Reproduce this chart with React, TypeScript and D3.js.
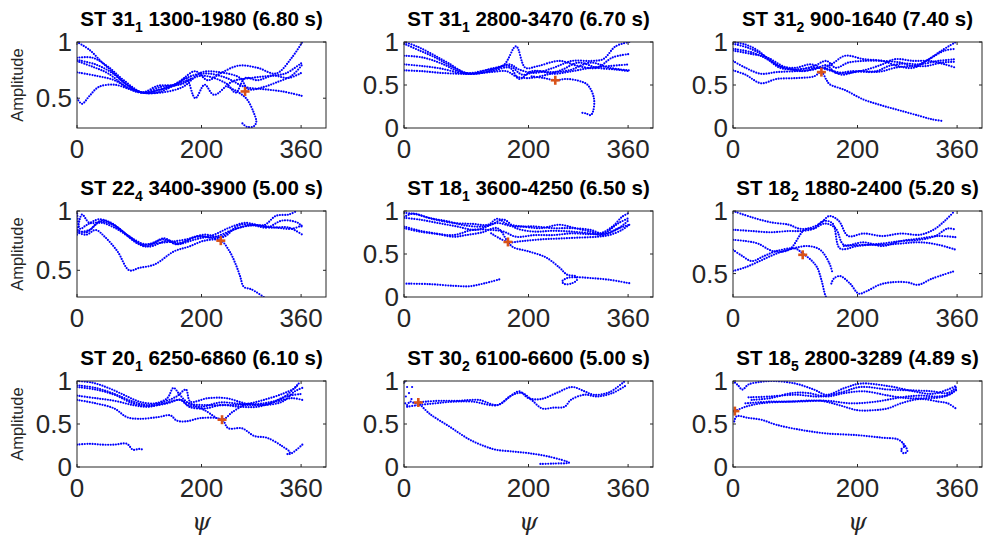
import React from "react";
import * as d3 from "d3";

type Pt = [number, number];

// panel titles
const stations = ["ST 31", "ST 31", "ST 31", "ST 22", "ST 18", "ST 18", "ST 20", "ST 30", "ST 18"];
const subs = ["1", "1", "2", "4", "1", "2", "1", "2", "5"];
const windows = [
  "1300-1980 (6.80 s)",
  "2800-3470 (6.70 s)",
  "900-1640 (7.40 s)",
  "3400-3900 (5.00 s)",
  "3600-4250 (6.50 s)",
  "1880-2400 (5.20 s)",
  "6250-6860 (6.10 s)",
  "6100-6600 (5.00 s)",
  "2800-3289 (4.89 s)",
];
const yMins = [0.235, 0, 0, 0.275, 0, 0.313, 0, 0, 0];
const xTicks = [0, 200, 360];
const markers: Pt[] = [
  [270, 0.56], [243, 0.555], [142, 0.65],
  [231, 0.75], [167, 0.64], [112, 0.65],
  [233, 0.55], [23, 0.75], [3, 0.65],
];

const curves1: Pt[][] = [
  [[0,1.0],[20,0.93],[40,0.82],[60,0.72],[80,0.62],[105,0.55],[130,0.57],[160,0.63],[185,0.70],[210,0.72],[240,0.68],[270,0.60],[300,0.58],[330,0.56],[362,0.52]],
  [[0,0.86],[25,0.86],[50,0.78],[75,0.66],[105,0.55],[135,0.56],[165,0.65],[190,0.74],[210,0.66],[230,0.72],[260,0.79],[290,0.77],[320,0.72],[345,0.86],[362,1.0]],
  [[0,0.84],[30,0.80],[55,0.73],[80,0.62],[105,0.55],[135,0.58],[160,0.62],[175,0.68],[190,0.50],[205,0.62],[220,0.53],[250,0.65],[280,0.68],[310,0.70],[335,0.72],[362,0.82]],
  [[0,0.83],[25,0.78],[50,0.72],[80,0.60],[105,0.55],[135,0.55],[170,0.60],[200,0.73],[230,0.73],[262,0.68],[275,0.58],[300,0.60],[320,0.64],[345,0.70],[362,0.80]],
  [[0,0.73],[30,0.70],[60,0.66],[85,0.58],[105,0.55],[130,0.61],[165,0.62],[200,0.70],[240,0.63],[255,0.55],[270,0.68],[290,0.66],[315,0.70],[340,0.68],[362,0.73]],
  [[0,0.50],[8,0.45],[20,0.52],[35,0.60],[60,0.62],[85,0.58],[105,0.55],[135,0.60],[160,0.62],[185,0.68]],
  [[243,0.60],[260,0.55],[273,0.49],[284,0.37],[288,0.29],[284,0.25],[273,0.245],[265,0.28]],
];
const curves2: Pt[][] = [
  [[0,1.0],[20,0.95],[45,0.86],[70,0.76],[100,0.64],[125,0.64],[150,0.70],[170,0.74],[185,0.68],[210,0.64],[240,0.70],[270,0.78],[300,0.78],[320,0.80],[340,0.95],[362,1.0]],
  [[0,0.98],[25,0.90],[50,0.82],[75,0.72],[100,0.64],[130,0.67],[160,0.73],[180,0.95],[195,0.70],[215,0.72],[250,0.78],[280,0.72],[310,0.70],[335,0.82],[362,0.86]],
  [[0,0.84],[30,0.82],[60,0.75],[90,0.65],[110,0.63],[140,0.69],[170,0.72],[190,0.62],[215,0.66],[240,0.63],[270,0.66],[300,0.70],[330,0.72],[362,0.74]],
  [[0,0.74],[30,0.72],[60,0.69],[90,0.64],[110,0.63],[140,0.66],[170,0.70],[185,0.57],[205,0.66],[235,0.65],[265,0.67],[300,0.76],[330,0.70],[362,0.67]],
  [[0,0.67],[30,0.66],[60,0.64],[90,0.63],[110,0.63],[140,0.65],[165,0.66],[180,0.60],[200,0.58],[230,0.62],[255,0.68],[280,0.76],[310,0.70],[340,0.68],[362,0.66]],
  [[205,0.60],[225,0.58],[243,0.555],[260,0.57],[280,0.55],[295,0.50],[305,0.35],[304,0.20],[300,0.15],[292,0.17],[283,0.18]],
];
const curves3: Pt[][] = [
  [[0,1.0],[20,0.97],[40,0.90],[60,0.78],[80,0.70],[105,0.68],[130,0.72],[150,0.78],[165,0.70],[185,0.76],[210,0.78],[240,0.78],[270,0.76],[290,0.72],[310,0.78],[335,0.90],[358,1.0]],
  [[0,0.98],[25,0.93],[50,0.84],[75,0.72],[100,0.70],[125,0.74],[145,0.70],[160,0.75],[180,0.84],[210,0.80],[240,0.78],[265,0.72],[290,0.70],[315,0.80],[340,0.90],[358,0.92]],
  [[0,0.92],[30,0.88],[55,0.80],[75,0.70],[100,0.68],[130,0.70],[155,0.68],[175,0.62],[200,0.66],[230,0.66],[250,0.72],[275,0.75],[300,0.74],[330,0.78],[358,0.80]],
  [[0,0.90],[30,0.86],[55,0.82],[80,0.72],[110,0.66],[140,0.70],[160,0.66],[185,0.64],[215,0.68],[240,0.74],[260,0.80],[290,0.78],[315,0.78],[340,0.74],[358,0.70]],
  [[0,0.78],[20,0.70],[45,0.63],[70,0.65],[100,0.66],[130,0.68],[150,0.73],[165,0.64],[190,0.66],[220,0.65],[240,0.66],[260,0.70],[285,0.72],[310,0.72],[335,0.76],[358,0.77]],
  [[0,0.67],[20,0.62],[45,0.52],[70,0.57],[100,0.58],[130,0.60],[142,0.65],[150,0.56],[155,0.51],[180,0.44],[210,0.33],[240,0.26],[270,0.20],[300,0.14],[320,0.10],[338,0.08]],
];
const curves4: Pt[][] = [
  [[0,1.0],[5,0.85],[15,0.88],[35,0.93],[55,0.90],[80,0.80],[110,0.72],[140,0.76],[160,0.72],[190,0.76],[220,0.80],[245,0.86],[270,0.90],[300,0.88],[320,0.96],[340,0.97],[353,1.0]],
  [[0,0.80],[8,0.97],[20,0.90],[40,0.91],[60,0.88],[85,0.78],[110,0.70],[140,0.77],[160,0.72],[190,0.78],[220,0.78],[250,0.84],[280,0.88],[305,0.86],[330,0.92],[355,0.90],[362,0.86]],
  [[0,0.84],[15,0.82],[35,0.90],[60,0.86],[90,0.76],[115,0.70],[145,0.75],[165,0.73],[195,0.79],[225,0.77],[255,0.85],[285,0.88],[310,0.86],[340,0.86],[362,0.80]],
  [[0,0.82],[15,0.80],[30,0.84],[45,0.78],[65,0.66],[84,0.50],[100,0.52],[125,0.55],[156,0.66],[180,0.70],[205,0.75],[231,0.75],[245,0.66],[255,0.55],[262,0.45],[268,0.36],[280,0.34],[300,0.275]],
  [[0,0.82],[20,0.84],[40,0.92],[70,0.84],[100,0.72],[130,0.73],[150,0.74],[175,0.76],[205,0.80],[235,0.78],[260,0.88],[290,0.88],[320,0.86],[345,0.85],[362,0.88]],
];
const curves5: Pt[][] = [
  [[0,0.98],[20,0.96],[50,0.90],[80,0.86],[110,0.85],[135,0.84],[150,0.91],[165,0.85],[190,0.82],[220,0.80],[250,0.84],[275,0.80],[300,0.76],[315,0.74],[335,0.82],[350,0.93],[362,0.98]],
  [[0,0.93],[15,0.97],[40,0.92],[70,0.88],[100,0.83],[130,0.82],[150,0.86],[175,0.82],[210,0.82],[240,0.80],[270,0.80],[300,0.78],[320,0.74],[345,0.86],[362,0.92]],
  [[0,0.92],[25,0.90],[55,0.86],[85,0.82],[115,0.78],[140,0.84],[160,0.90],[180,0.80],[210,0.76],[240,0.77],[270,0.76],[300,0.74],[320,0.72],[345,0.80],[362,0.90]],
  [[0,0.82],[20,0.78],[50,0.74],[80,0.72],[110,0.78],[140,0.78],[160,0.76],[180,0.70],[210,0.72],[240,0.72],[270,0.74],[300,0.73],[325,0.74],[345,0.80],[362,0.84]],
  [[0,0.80],[25,0.76],[55,0.73],[80,0.70],[100,0.72],[125,0.75],[150,0.80],[167,0.64],[175,0.58],[200,0.53],[228,0.46],[250,0.34],[262,0.26],[276,0.24],[278,0.20],[270,0.16],[258,0.15],[254,0.18],[262,0.22],[276,0.23],[300,0.22],[330,0.20],[362,0.16]],
  [[140,0.74],[167,0.64],[190,0.65],[220,0.67],[250,0.68],[280,0.69],[310,0.70],[330,0.72],[350,0.78],[362,0.84]],
  [[4,0.155],[40,0.15],[80,0.13],[105,0.125],[130,0.16],[156,0.21]],
];
const curves6: Pt[][] = [
  [[0,1.0],[30,0.95],[60,0.91],[90,0.89],[105,0.86],[120,0.86],[140,0.90],[155,0.96],[170,0.92],[185,0.80],[210,0.82],[240,0.80],[270,0.82],[300,0.81],[322,0.85],[340,0.92],[356,1.0]],
  [[0,0.85],[30,0.84],[60,0.83],[90,0.84],[110,0.84],[130,0.86],[145,0.92],[160,0.90],[172,0.70],[200,0.72],[240,0.74],[270,0.76],[300,0.77],[325,0.80],[345,0.86],[358,0.85]],
  [[0,0.77],[20,0.76],[40,0.74],[64,0.68],[90,0.69],[115,0.85],[130,0.86],[148,0.90],[165,0.86],[178,0.73],[210,0.75],[240,0.72],[270,0.76],[300,0.78],[330,0.80],[358,0.79]],
  [[0,0.69],[15,0.64],[30,0.60],[50,0.64],[70,0.68],[100,0.70],[112,0.66],[125,0.61],[135,0.55],[142,0.45],[148,0.33],[150,0.31]],
  [[0,0.52],[20,0.55],[43,0.60],[70,0.66],[96,0.70],[120,0.72],[140,0.69],[155,0.58],[160,0.50]],
  [[158,0.42],[162,0.46],[172,0.48],[188,0.42],[202,0.34],[215,0.36],[235,0.41],[254,0.43],[280,0.43],[297,0.41],[320,0.46],[356,0.52]],
  [[178,0.72],[210,0.73],[240,0.73],[270,0.74],[300,0.75],[330,0.73],[358,0.69]],
];
const curves7: Pt[][] = [
  [[0,1.0],[25,0.98],[50,0.92],[75,0.84],[100,0.76],[125,0.74],[145,0.80],[155,0.92],[165,0.84],[180,0.74],[210,0.72],[240,0.72],[270,0.73],[300,0.78],[330,0.85],[350,0.92],[358,0.99]],
  [[0,0.95],[30,0.92],[60,0.85],[90,0.76],[115,0.72],[140,0.76],[160,0.82],[175,0.90],[182,0.76],[210,0.80],[240,0.80],[270,0.74],[300,0.72],[330,0.76],[350,0.88],[362,0.92]],
  [[0,0.93],[30,0.90],[60,0.84],[90,0.74],[115,0.71],[145,0.74],[165,0.78],[178,0.72],[200,0.70],[230,0.75],[255,0.74],[280,0.72],[310,0.74],[335,0.82],[362,0.85]],
  [[0,0.83],[30,0.80],[60,0.77],[90,0.72],[115,0.70],[140,0.74],[168,0.78],[180,0.70],[205,0.68],[232,0.72],[262,0.70],[290,0.70],[320,0.76],[345,0.80],[362,0.78]],
  [[0,0.78],[30,0.74],[60,0.68],[80,0.58],[100,0.56],[130,0.58],[150,0.60],[160,0.54],[175,0.53],[200,0.57],[233,0.55],[243,0.45],[265,0.45],[285,0.36],[305,0.34],[330,0.24],[342,0.17],[338,0.15],[345,0.16],[362,0.26]],
  [[180,0.74],[205,0.66],[233,0.55],[250,0.64],[270,0.72],[300,0.74],[330,0.80],[355,0.96]],
  [[0,0.26],[20,0.27],[40,0.26],[60,0.26],[80,0.27],[90,0.20],[100,0.21],[107,0.20]],
];
const curves8: Pt[][] = [
  [[5,0.72],[10,0.76],[18,0.74],[23,0.75],[35,0.76],[60,0.77],[90,0.77],[120,0.78],[150,0.72],[170,0.82],[185,0.88],[200,0.80],[220,0.79],[245,0.86],[270,0.93],[290,0.88],[305,0.84],[330,0.87],[355,1.0]],
  [[5,0.70],[23,0.72],[50,0.74],[80,0.76],[110,0.76],[150,0.72],[175,0.84],[190,0.86],[205,0.78],[222,0.68],[240,0.69],[258,0.70],[268,0.78],[290,0.84],[310,0.82],[335,0.86],[355,0.94]],
  [[23,0.75],[41,0.62],[73,0.47],[105,0.32],[130,0.24],[148,0.20],[175,0.18],[201,0.16],[233,0.12],[265,0.05],[240,0.04],[217,0.035]],
];
const curves9: Pt[][] = [
  [[0,1.0],[8,0.95],[15,0.90],[25,0.96],[45,0.99],[65,1.0],[100,0.97],[130,0.90],[150,0.84],[180,0.92],[205,0.97],[250,0.94],[290,0.88],[320,0.85],[345,0.90],[360,0.95]],
  [[25,0.81],[60,0.82],[100,0.84],[140,0.82],[175,0.87],[205,0.93],[250,0.90],[290,0.89],[320,0.88],[345,0.86],[360,0.94]],
  [[30,0.78],[60,0.80],[95,0.86],[120,0.86],[150,0.82],[180,0.86],[210,0.88],[250,0.83],[280,0.80],[310,0.80],[340,0.82],[360,0.90]],
  [[20,0.74],[60,0.76],[100,0.76],[150,0.77],[190,0.74],[230,0.76],[270,0.81],[300,0.83],[330,0.82],[350,0.85],[360,0.92]],
  [[3,0.65],[20,0.70],[45,0.74],[90,0.76],[140,0.77],[170,0.72],[200,0.66],[225,0.66],[248,0.68],[270,0.74],[300,0.79],[330,0.76],[345,0.74],[358,0.68]],
  [[2,0.53],[6,0.59],[25,0.57],[45,0.55],[70,0.49],[110,0.43],[150,0.39],[200,0.37],[240,0.34],[265,0.32],[275,0.26],[280,0.18],[274,0.16],[270,0.20],[275,0.24],[270,0.30]],
];
// scattered single samples near psi = 0 in panel 8
const sparse8: Pt[] = [[1,0.99],[5,0.93],[13,0.93],[8,0.86],[3,0.82],[12,0.79],[2,0.74]];

const allCurves = [curves1, curves2, curves3, curves4, curves5, curves6, curves7, curves8, curves9];

const colLeft = [77, 404, 733];
const rowTop = [42, 211, 381];
const W = 249;
const H = 86;
const axisColor = "#262626";
const font = "'Liberation Sans', Arial, Helvetica, sans-serif";

function Panel({ idx }: { idx: number }) {
  const col = idx % 3;
  const row = Math.floor(idx / 3);
  const left = colLeft[col];
  const top = rowTop[row];
  const yMin = yMins[idx];
  const x = d3.scaleLinear().domain([0, 400]).range([0, W]);
  const y = d3.scaleLinear().domain([yMin, 1]).range([H, 0]);
  const yTicks = [0, 0.5, 1].filter((t) => t >= yMin);
  const line = d3
    .line<Pt>()
    .x((d) => x(d[0]))
    .y((d) => y(d[1]))
    .curve(d3.curveCatmullRom.alpha(0.5));
  const clipId = `clip${idx}`;
  const m = markers[idx];
  const tl = 3;
  return (
    <g transform={`translate(${left},${top})`}>
      <defs>
        <clipPath id={clipId}>
          <rect x={0} y={0} width={W} height={H} />
        </clipPath>
      </defs>
      <g clipPath={`url(#${clipId})`}>
        {allCurves[idx].map((c, i) => (
          <path
            key={i}
            d={line(c) || ""}
            fill="none"
            stroke="#0000ff"
            strokeWidth={2.2}
            strokeDasharray="0 2.6"
            strokeLinecap="round"
          />
        ))}
        {idx === 7 &&
          sparse8.map((p, i) => (
            <circle key={i} cx={x(p[0])} cy={y(p[1])} r={1.1} fill="#0000ff" />
          ))}
        <g transform={`translate(${x(m[0])},${y(m[1])})`} stroke="#D95319" strokeWidth={2.6}>
          <line x1={-4.5} x2={4.5} y1={0} y2={0} />
          <line x1={0} x2={0} y1={-4.5} y2={4.5} />
        </g>
      </g>
      <rect x={0} y={0} width={W} height={H} fill="none" stroke={axisColor} strokeWidth={1} />
      {xTicks.map((t) => (
        <g key={"x" + t}>
          <line x1={x(t)} x2={x(t)} y1={H} y2={H - tl} stroke={axisColor} />
          <line x1={x(t)} x2={x(t)} y1={0} y2={tl} stroke={axisColor} />
          <text
            x={x(t)}
            y={H + 30}
            textAnchor="middle"
            fontFamily={font}
            fontSize={26}
            fill={axisColor}
          >
            {t}
          </text>
        </g>
      ))}
      {yTicks.map((t) => (
        <g key={"y" + t}>
          <line x1={0} x2={tl} y1={y(t)} y2={y(t)} stroke={axisColor} />
          <line x1={W} x2={W - tl} y1={y(t)} y2={y(t)} stroke={axisColor} />
          <text
            x={-5}
            y={y(t) + 9}
            textAnchor="end"
            fontFamily={font}
            fontSize={26}
            fill={axisColor}
          >
            {t}
          </text>
        </g>
      ))}
      <text
        x={W / 2}
        y={-16}
        textAnchor="middle"
        fontFamily={font}
        fontWeight="bold"
        fontSize={20.5}
        fill="#000"
      >
        {stations[idx]}
        <tspan fontSize={14} dy={6}>
          {subs[idx]}
        </tspan>
        <tspan dy={-6}>{" " + windows[idx]}</tspan>
      </text>
      {col === 0 && (
        <text
          transform={`translate(${-54},${H / 2}) rotate(-90)`}
          textAnchor="middle"
          fontFamily={font}
          fontSize={16.5}
          fill={axisColor}
        >
          Amplitude
        </text>
      )}
      {row === 2 && (
        <text
          x={W / 2}
          y={H + 63}
          textAnchor="middle"
          fontFamily="'DejaVu Serif', 'Liberation Serif', serif"
          fontStyle="italic"
          fontSize={24}
          fill={axisColor}
        >
          ψ
        </text>
      )}
    </g>
  );
}

export default function App() {
  return (
    <svg
      width={983}
      height={542}
      style={{ position: "absolute", left: 0, top: 0, background: "#fff" }}
    >
      <rect width={983} height={542} fill="#fff" />
      {d3.range(9).map((i) => (
        <Panel key={i} idx={i} />
      ))}
    </svg>
  );
}
